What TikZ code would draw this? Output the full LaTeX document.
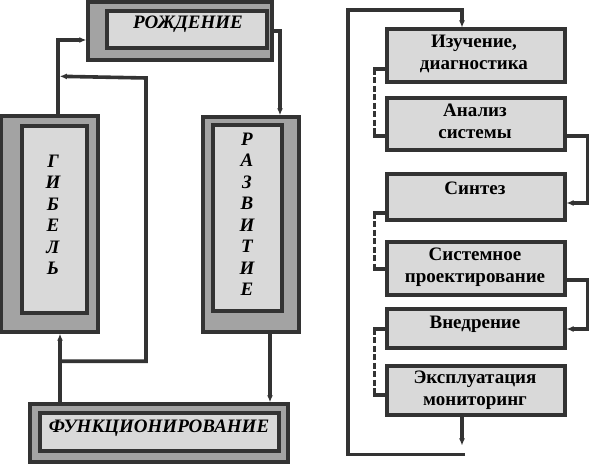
\documentclass[tikz,border=0pt]{standalone}
\usepackage{fontspec}
\setmainfont{Liberation Serif}
\usetikzlibrary{arrows.meta,calc}
\definecolor{bord}{HTML}{333333}
\definecolor{outfill}{HTML}{A3A3A3}
\definecolor{infill}{HTML}{D9D9D9}
\begin{document}
\begin{tikzpicture}[x=1pt,y=-1pt,
 outerbox/.style={draw=bord,line width=3.4pt,fill=outfill,inner sep=0pt},
 innerbox/.style={draw=bord,line width=4pt,fill=infill,inner sep=0pt},
 rbox/.style={draw=bord,line width=4pt,fill=infill,inner sep=0pt,minimum width=178pt},
 lbl/.style={font=\fontsize{19}{21.5}\selectfont\bfseries\itshape,align=center,inner sep=0pt},
 rlbl/.style={font=\fontsize{19}{22}\selectfont\bfseries,align=center,inner sep=0pt},
 conn/.style={draw=bord,line width=3.6pt},
 arr/.style={-{Latex[length=7pt,width=6pt]}},
 dsh/.style={draw=bord,line width=3.6pt,dash pattern=on 6pt off 2.5pt},
 stub/.style={draw=bord,line width=3.6pt,line cap=rect},
]
\useasboundingbox (0,0) rectangle (590,465);
\fill[white] (0,0) rectangle (590,465);

% left cycle boxes
\node[outerbox,minimum width=184pt,minimum height=58pt] (rozh) at (180,31) {};
\node[innerbox,minimum width=160pt,minimum height=37pt] (rozhin) at (186.5,30) {};
\node[lbl] (rozhtxt) at (188,24) {РОЖДЕНИЕ};

\node[outerbox,minimum width=97pt,minimum height=216pt] (gib) at (49.5,224) {};
\node[innerbox,minimum width=65pt,minimum height=187pt] (gibin) at (54,220) {};
\node[lbl] (gibtxt) at (53,215) {Г\\И\\Б\\Е\\Л\\Ь};

\node[outerbox,minimum width=96pt,minimum height=215pt] (razv) at (251,224.5) {};
\node[innerbox,minimum width=69pt,minimum height=186pt] (razvin) at (247,218.5) {};
\node[lbl] (razvtxt) at (247,214.5) {Р\\А\\З\\В\\И\\Т\\И\\Е};

\node[outerbox,minimum width=258pt,minimum height=58pt] (func) at (159,433) {};
\node[innerbox,minimum width=239pt,minimum height=38pt] (funcin) at (159,432.5) {};
\node[lbl] (functxt) at (159,428) {ФУНКЦИОНИРОВАНИЕ};

% right column boxes
\node[rbox,minimum height=53pt] (izuch) at (475.5,56) {};
\node[rbox,minimum height=52pt] (anal) at (475.5,124.5) {};
\node[rbox,minimum height=46pt] (sint) at (475.5,197.5) {};
\node[rbox,minimum height=53pt] (sist) at (475.5,269) {};
\node[rbox,minimum height=39pt] (vned) at (475.5,329) {};
\node[rbox,minimum height=49pt] (expl) at (475.5,391) {};

\node[rlbl] (izuchtxt) at (474,54) {Изучение,\\диагностика};
\node[rlbl] (analtxt) at (475,121) {Анализ\\системы};
\node[rlbl] (sinttxt) at (475,188) {Синтез};
\node[rlbl] (sisttxt) at (475,267) {Системное\\проектирование};
\node[rlbl] (vnedtxt) at (475,324) {Внедрение};
\node[rlbl] (expltxt) at (475,390) {Эксплуатация\\мониторинг};

% left cycle connectors
\coordinate (g1) at ($(gib.north)+(8.5,0)$);
\draw[conn,arr] (g1) |- ($(rozh.west)+(0,9)$);
\draw[conn,arr] (rozh.east) -| ($(razv.north)+(29,0)$);
\coordinate (r1) at ($(razv.south)+(19,0)$);
\draw[conn,arr] (r1) -- (r1 |- func.north);
\coordinate (f1) at ($(func.north -| gib.north)+(10.5,0)$);
\draw[conn,arr] (f1) -- (f1 |- gib.south);
\coordinate (j1) at ($(f1)+(0,-41)$);
\coordinate (k1) at (146,78);
\draw[conn,arr] (j1) -| (k1) -- ($(g1)+(1.8,-38)$);

% right column connectors
\coordinate (e1) at ($(expl.south)+(-13.5,0)$);
\draw[conn,arr] (e1) -- ++(0,28);
\coordinate (b1) at ($(e1)+(3,37)$);
\coordinate (b2) at (348,10);
\draw[conn,arr] (b1) -| (b2) -| ($(izuch.north)+(-13.5,0)$);

\draw[conn,arr] ($(anal.east)+(0,11.5)$) -- ++(21,0) |- ($(sint.east)+(0,5.5)$);
\draw[conn,arr] ($(sist.east)+(0,11)$) -- ++(21,0) |- (vned.east);

\draw[stub] ($(izuch.west)+(0,13)$) -- ++(-10,0) coordinate (d1);
\draw[stub] ($(anal.west)+(0,11.5)$) -- ++(-10,0) coordinate (d2);
\draw[dsh] (d1) -- (d2);
\draw[stub] ($(sint.west)+(0,15.5)$) -- ++(-10,0) coordinate (d3);
\draw[stub] (sist.west) -- ++(-10,0) coordinate (d4);
\draw[dsh] (d3) -- (d4);
\draw[stub] (vned.west) -- ++(-10,0) coordinate (d5);
\draw[stub] ($(expl.west)+(0,4)$) -- ++(-10,0) coordinate (d6);
\draw[dsh] (d5) -- (d6);
\end{tikzpicture}
\end{document}
